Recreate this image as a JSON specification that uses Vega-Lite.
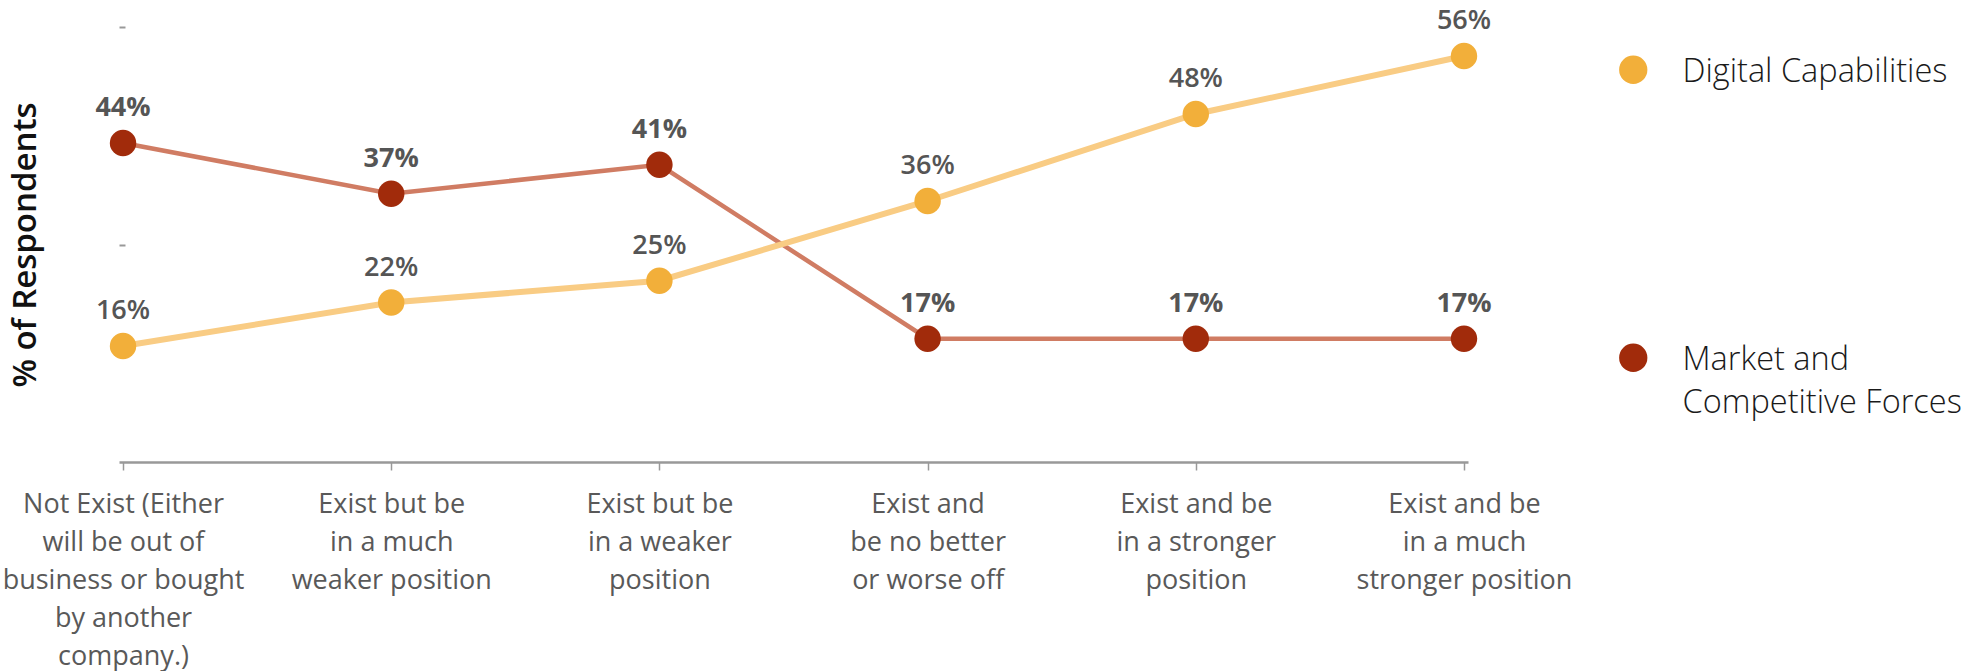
{
  "$schema": "https://vega.github.io/schema/vega-lite/v6.json",
  "width": 1349,
  "height": 435,
  "autosize": {"type": "none"},
  "padding": {"left": 119, "top": 27, "right": 518, "bottom": 209},
  "background": "white",
  "config": {
    "view": {"stroke": null},
    "font": "Open Sans",
    "style": {"guide-label": {"dy": 12, "lineHeight": 43}}
  },
  "data": {
    "values": [
      {"stage": "Not Exist (Either\nwill be out of\nbusiness or bought\nby another\ncompany.)", "series": "Market and Competitive Forces", "value": 0.44},
      {"stage": "Exist but be\nin a much\nweaker position", "series": "Market and Competitive Forces", "value": 0.37},
      {"stage": "Exist but be\nin a weaker\nposition", "series": "Market and Competitive Forces", "value": 0.41},
      {"stage": "Exist and\nbe no better\nor worse off", "series": "Market and Competitive Forces", "value": 0.17},
      {"stage": "Exist and be\nin a stronger\nposition", "series": "Market and Competitive Forces", "value": 0.17},
      {"stage": "Exist and be\nin a much\nstronger position", "series": "Market and Competitive Forces", "value": 0.17},
      {"stage": "Not Exist (Either\nwill be out of\nbusiness or bought\nby another\ncompany.)", "series": "Digital Capabilities", "value": 0.16},
      {"stage": "Exist but be\nin a much\nweaker position", "series": "Digital Capabilities", "value": 0.22},
      {"stage": "Exist but be\nin a weaker\nposition", "series": "Digital Capabilities", "value": 0.25},
      {"stage": "Exist and\nbe no better\nor worse off", "series": "Digital Capabilities", "value": 0.36},
      {"stage": "Exist and be\nin a stronger\nposition", "series": "Digital Capabilities", "value": 0.48},
      {"stage": "Exist and be\nin a much\nstronger position", "series": "Digital Capabilities", "value": 0.56}
    ]
  },
  "encoding": {
    "x": {
      "field": "stage",
      "type": "nominal",
      "sort": null,
      "scale": {"type": "point", "padding": 0.015},
      "axis": {
        "title": null,
        "labelAngle": 0,
        "labelExpr": "split(datum.label, '\\n')",
        "labelFontSize": 27,
        "labelColor": "#595959",
        "labelLineHeight": 38,
        "labelPadding": 9,
        "labelLimit": 0,
        "labelOverlap": false,
        "labelBound": false,
        "domainColor": "#999999",
        "domainWidth": 2.5,
        "tickColor": "#999999",
        "tickSize": 8,
        "tickWidth": 1.5,
        "grid": false
      }
    },
    "y": {
      "field": "value",
      "type": "quantitative",
      "scale": {"domain": [0, 0.6], "nice": false, "zero": true},
      "axis": {
        "title": "% of Respondents",
        "titleFontSize": 33,
        "titleFontWeight": 600,
        "titleColor": "#111111",
        "titlePadding": 76,
        "labels": false,
        "domain": false,
        "grid": false,
        "values": [0.3, 0.6],
        "offset": -6,
        "tickSize": 6,
        "tickWidth": 2,
        "tickColor": "#999999"
      }
    }
  },
  "layer": [
    {
      "transform": [{"filter": "datum.series == 'Market and Competitive Forces'"}],
      "mark": {"type": "line", "color": "#D07C63", "strokeWidth": 4.5}
    },
    {
      "transform": [{"filter": "datum.series == 'Digital Capabilities'"}],
      "mark": {"type": "line", "color": "#F9CC84", "strokeWidth": 6}
    },
    {
      "mark": {"type": "point", "filled": true, "opacity": 1, "size": 700, "shape": "circle"},
      "encoding": {
        "color": {
          "field": "series",
          "type": "nominal",
          "scale": {"domain": ["Digital Capabilities", "Market and Competitive Forces"], "range": ["#F2AF3A", "#A12B0B"]},
          "legend": {
            "title": null,
            "orient": "none",
            "legendX": 1498,
            "legendY": 26.5,
            "symbolType": "circle",
            "symbolSize": 800,
            "symbolStrokeWidth": 0,
            "labelFontSize": 32.5,
            "labelFontWeight": 300,
            "labelColor": "#1a1a1a",
            "labelOffset": 33,
            "labelBaseline": "alphabetic",
            "labelLimit": 0,
            "rowPadding": 253,
            "labelExpr": "datum.label == 'Market and Competitive Forces' ? ['Market and', 'Competitive Forces'] : datum.label"
          }
        }
      }
    },
    {
      "transform": [{"filter": "datum.series == 'Digital Capabilities'"}],
      "mark": {"type": "text", "fontSize": 27, "fontWeight": 600, "color": "#555555", "baseline": "alphabetic", "dy": -27},
      "encoding": {"text": {"field": "value", "type": "quantitative", "format": ".0%"}}
    },
    {
      "transform": [{"filter": "datum.series == 'Market and Competitive Forces'"}],
      "mark": {"type": "text", "fontSize": 27, "fontWeight": "bold", "color": "#555555", "baseline": "alphabetic", "dy": -27},
      "encoding": {"text": {"field": "value", "type": "quantitative", "format": ".0%"}}
    }
  ]
}
